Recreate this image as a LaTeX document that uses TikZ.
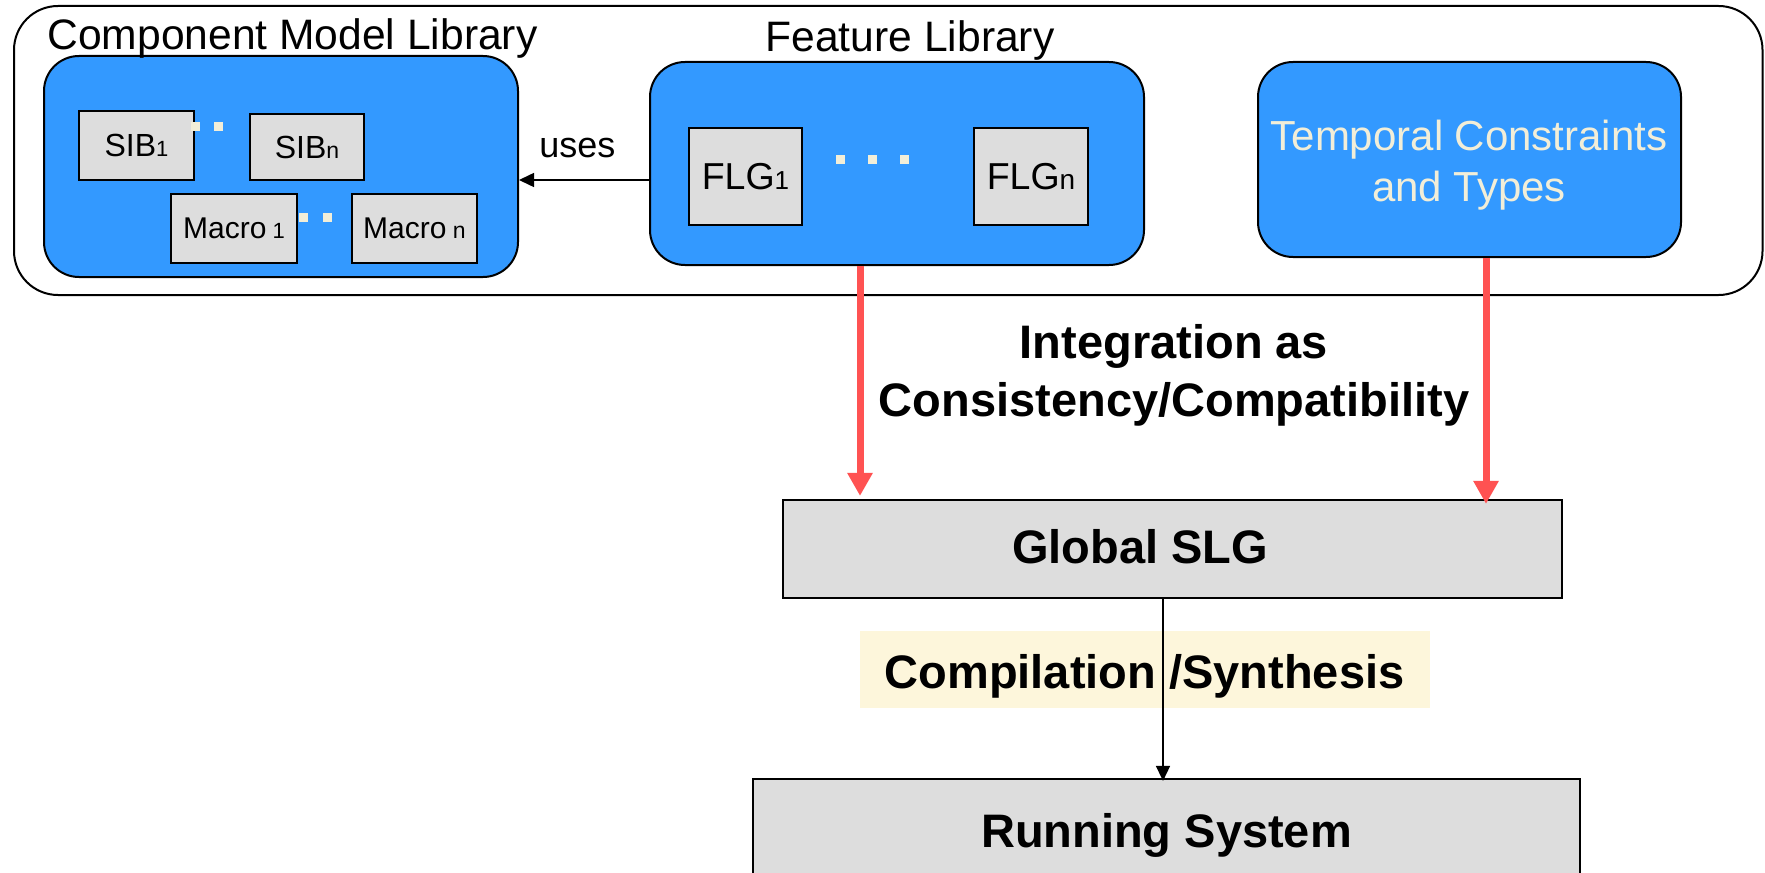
\documentclass[tikz,border=0pt]{standalone}
\usepackage{fontspec}
\setmainfont{Liberation Sans}
\usetikzlibrary{arrows.meta}
\definecolor{libblue}{RGB}{51,153,255}
\definecolor{boxgray}{RGB}{221,221,221}
\definecolor{cream}{RGB}{242,238,216}
\definecolor{notebg}{RGB}{253,246,219}
\definecolor{linkred}{RGB}{255,82,82}
\newcommand{\fsz}[2]{\fontsize{#1}{#2}\selectfont}

\begin{document}
\begin{tikzpicture}[x=0.5pt,y=-0.5pt,
  outerbox/.style={draw=black, line width=1pt, rounded corners=22pt, fill=white, inner sep=0pt},
  bluebox/.style={draw=black, line width=1pt, fill=libblue, rounded corners=17.5pt, inner sep=0pt},
  graybox/.style={draw=black, line width=1.1pt, fill=boxgray, inner sep=0pt},
  dotsq/.style={fill=cream, minimum size=4.5pt, inner sep=0pt},
  title/.style={inner sep=0pt, font=\fsz{21.3}{25}},
  boldlbl/.style={inner sep=0pt, font=\fsz{23.5}{29}\bfseries},
  redarrow/.style={draw=linkred, line width=3.5pt, -{Triangle[length=11.5pt,width=12pt]}},
  thinarrow/.style={draw=black, line width=0.75pt, -{Triangle[length=7.5pt,width=7pt]}},
]
\clip (0,0) rectangle (1765,872);
\fill[white] (0,0) rectangle (1765,872);

% library container
\node[outerbox, minimum width=874.25pt, minimum height=144.5pt] (outer) at (888.25,150.5) {};

% component model library
\node[bluebox, minimum width=237pt, minimum height=110.5pt] (CML) at (281,166.5) {};
\node[title, anchor=base west] (cmltitle) at (47,50) {Component Model Library};
\node[graybox, minimum width=57.5pt, minimum height=34.5pt, font=\fsz{16}{18}] (sib1) at (136.5,145.5) {SIB{\fsz{11}{13}1}};
\node[graybox, minimum width=57pt, minimum height=33pt, font=\fsz{16}{18}] (sibn) at (307,147) {SIB{\fsz{11.5}{13}n}};
\node[graybox, minimum width=63pt, minimum height=34.5pt, font=\fsz{15}{18}] (mac1) at (234,228.5) {Macro{\fsz{11}{13} 1}};
\node[graybox, minimum width=62.5pt, minimum height=34.5pt, font=\fsz{15}{18}] (macn) at (414.5,228.5) {Macro{\fsz{11.5}{13} n}};
\node[dotsq] (sd1) at (195.5,126.5) {};
\node[dotsq] (sd2) at (218.5,126.5) {};
\node[dotsq] (md1) at (303.5,217.5) {};
\node[dotsq] (md2) at (327.5,217.5) {};

% feature library
\node[bluebox, minimum width=247pt, minimum height=101.5pt] (FL) at (897,163.5) {};
\node[title, anchor=base] (fltitle) at (910,52) {Feature Library};
\node[graybox, minimum width=56.5pt, minimum height=48.5pt, font=\fsz{18.75}{22}] (flg1) at (745.5,176.5) {FLG{\fsz{13}{15}1}};
\node[graybox, minimum width=57pt, minimum height=48.5pt, font=\fsz{18.75}{22}] (flgn) at (1031,176.5) {FLG{\fsz{14}{16}n}};
\node[dotsq] (fd1) at (840.5,159.5) {};
\node[dotsq] (fd2) at (872.5,159.5) {};
\node[dotsq] (fd3) at (904.5,159.5) {};

% temporal constraints
\node[bluebox, minimum width=211.5pt, minimum height=97.5pt] (TC) at (1469.5,159.5) {};
\node[inner sep=0pt, align=center, text=cream, font=\fsz{21}{25.5}] (tctext) at (1469,165) {Temporal Constraints\\and Types};

% uses relation
\node[inner sep=0pt, anchor=base west, font=\fsz{18}{21}] (uses) at (539,157) {uses};
\draw[thinarrow] (FL.west |- 0,180) -- (CML.east |- 0,180);

% integration target and running system
\node[graybox, minimum width=389.5pt, minimum height=49pt] (GSLG) at (1172.5,549) {};
\node[boldlbl, anchor=base] (gslgtext) at (1140,563) {Global SLG};
\node[graybox, minimum width=413.5pt, minimum height=51pt] (RS) at (1166.5,830) {};
\node[boldlbl, anchor=base] (rstext) at (1166.5,847) {Running System};

% integration arrows
\draw[redarrow, shorten >=1.5pt] (FL.south -| 860,0) -- (GSLG.north -| 860,0);
\draw[redarrow, shorten >=-2.5pt] (TC.south -| 1486,0) -- (GSLG.north -| 1486,0);
\node[boldlbl, align=center] (integ) at (1174,375) {Integration as\\Consistency/Compatibility};

% compilation step
\node[fill=notebg, minimum width=285pt, minimum height=38.5pt, inner sep=0pt] (compbg) at (1145,669.5) {};
\draw[thinarrow, shorten >=-1.5pt] (GSLG.south -| 1163,0) -- (RS.north -| 1163,0);
\node[boldlbl, anchor=base] (comptext) at (1144.5,688) {Compilation /Synthesis};
\end{tikzpicture}
\end{document}
